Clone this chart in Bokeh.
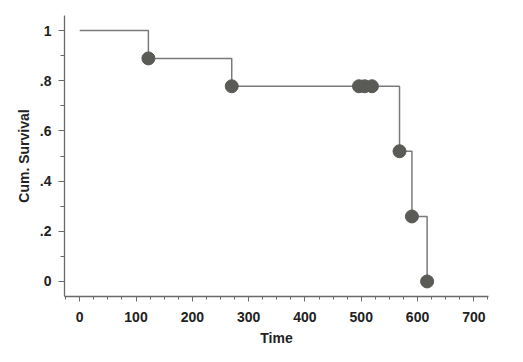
from bokeh.plotting import figure
from bokeh.embed import file_html
from bokeh.resources import INLINE
from bokeh.models import FixedTicker

# Kaplan-Meier step data
step_time = [0, 122, 270, 568, 590, 617]
step_surv = [1.0, 0.889, 0.778, 0.519, 0.259, 0.0]

# plotted markers
point_time = [122, 270, 496, 506, 519, 568, 590, 617]
point_surv = [0.889, 0.778, 0.778, 0.778, 0.778, 0.519, 0.259, 0.0]

x_ticks = [0, 100, 200, 300, 400, 500, 600, 700]
x_minor = [t for t in range(-25, 726, 25)]
y_ticks = [0, 0.2, 0.4, 0.6, 0.8, 1.0]
y_tick_labels = ["0", ".2", ".4", ".6", ".8", "1"]
y_minor = [0.1 * i for i in range(0, 11)]

p = figure(width=515, height=354, output_backend="svg", toolbar_location=None,
           x_range=(-27, 726), y_range=(-0.06, 1.06))
p.min_border_left = 64
p.min_border_top = 15
p.min_border_right = 27
p.min_border_bottom = 58
p.outline_line_color = None
p.xgrid.visible = False
p.ygrid.visible = False
p.background_fill_color = "white"
p.border_fill_color = "white"

p.step(step_time, step_surv, mode="after", line_color="#7a7a7a", line_width=1.5)
p.scatter(point_time, point_surv, size=13, fill_color="#5a5a57", line_color="#5a5a57")

axis_col = "#6a6a6a"
for ax in (p.xaxis[0], p.yaxis[0]):
    ax.axis_line_color = axis_col
    ax.axis_line_width = 1.3
    ax.major_tick_line_color = axis_col
    ax.minor_tick_line_color = axis_col
    ax.major_tick_in = 0
    ax.minor_tick_in = 0
    ax.major_label_text_font = "Liberation Sans"
    ax.major_label_text_font_style = "bold"
    ax.major_label_text_font_size = "14px"
    ax.major_label_text_color = "#222222"
    ax.axis_label_text_font = "Liberation Sans"
    ax.axis_label_text_font_style = "bold"
    ax.axis_label_text_font_size = "14px"
    ax.axis_label_text_color = "#222222"

p.xaxis.ticker = FixedTicker(ticks=x_ticks, minor_ticks=x_minor)
p.xaxis.major_tick_out = 5
p.xaxis.minor_tick_out = 3
p.xaxis.major_label_standoff = 10
p.xaxis.axis_label = "Time"
p.xaxis.axis_label_standoff = 5

p.yaxis.ticker = FixedTicker(ticks=y_ticks, minor_ticks=y_minor)
p.yaxis.major_tick_out = 6
p.yaxis.minor_tick_out = 4
p.yaxis.major_label_standoff = 7
p.yaxis.major_label_overrides = {v: s for v, s in zip(y_ticks, y_tick_labels)}
p.yaxis.axis_label = "Cum. Survival"
p.yaxis.axis_label_standoff = 5

open("out.html", "w").write(file_html(p, INLINE))
